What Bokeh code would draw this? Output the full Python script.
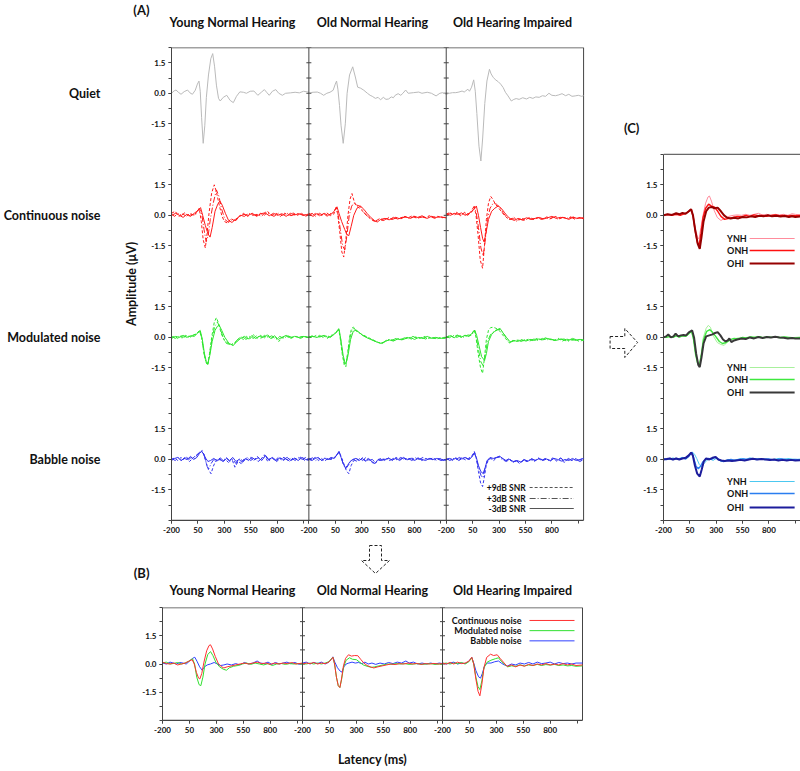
from bokeh.plotting import figure
from bokeh.models import FixedTicker, Span, LinearAxis
from bokeh.layouts import row, column
from bokeh.embed import file_html
from bokeh.resources import INLINE
from bokeh.core.properties import value

# ------------------------------------------------------------------ data
# latency (ms), amplitude (uV)
# (A) Quiet
A_Q_YNH = [(-200,0.0),(-175,0.12),(-157,0.16),(-135,0.05),(-110,-0.05),(-80,0.08),(-48,0.16),(-25,0.02),(-2,-0.05),(25,0.15),(45,0.45),(60,0.6),(72,0.1),(85,-1.2),(100,-2.46),(115,-1.6),(130,-0.2),(150,0.9),(172,1.7),(190,1.95),(208,1.3),(225,0.4),(245,-0.25),(261,-0.38),(290,-0.2),(323,-0.1),(355,-0.35),(385,-0.46),(415,-0.15),(447,0.07),(480,0.05),(509,0.0),(545,0.1),(580,0.11),(617,-0.1),(650,0.05),(679,0.18),(700,0.05),(725,-0.1),(755,0.1),(787,0.18),(815,0.0),(849,-0.1),(880,0.0),(926,0.02),(970,0.05),(1010,0.02),(1050,0.1),(1100,0.05)]
A_Q_ONH = [(-200,0.02),(-160,0.05),(-120,0.06),(-90,0.0),(-60,-0.1),(-30,0.0),(0,0.05),(30,0.15),(50,0.45),(62,0.6),(75,0.2),(90,-0.6),(105,-1.6),(125,-2.46),(145,-1.5),(162,0.0),(185,0.9),(215,1.3),(240,0.8),(262,0.3),(290,0.25),(320,0.15),(354,0.0),(380,-0.1),(400,-0.15),(430,-0.25),(455,-0.2),(478,-0.32),(505,-0.2),(530,-0.3),(555,-0.28),(580,-0.18),(600,-0.22),(617,-0.1),(645,-0.02),(670,-0.1),(690,0.0),(716,0.16),(740,0.0),(790,0.03),(840,0.06),(870,0.0),(920,0.05),(960,0.0),(1004,-0.13),(1040,0.0),(1066,0.03),(1100,-0.05)]
A_Q_OHI = [(-200,-0.05),(-170,0.0),(-140,0.03),(-110,0.03),(-80,0.06),(-50,0.11),(-30,0.06),(-15,0.12),(5,0.2),(20,0.1),(40,0.3),(60,0.66),(75,0.1),(90,-1.0),(110,-2.6),(128,-3.33),(145,-2.2),(165,-0.5),(185,0.6),(209,1.18),(225,0.95),(246,0.77),(270,0.65),(292,0.57),(315,0.45),(339,0.28),(360,0.05),(385,-0.13),(416,-0.38),(440,-0.3),(462,-0.26),(490,-0.3),(524,-0.22),(560,-0.28),(590,-0.2),(620,-0.25),(648,-0.18),(680,-0.2),(710,-0.12),(740,-0.15),(772,0.0),(800,-0.1),(835,-0.12),(865,-0.08),(896,-0.02),(930,-0.12),(960,-0.05),(990,-0.15),(1020,-0.13),(1050,-0.1),(1082,-0.15),(1100,-0.12)]

# (A) Continuous noise: +9, +3, -3 dB SNR
A_CN_YNH_P9 = [(-200,0.1),(-165,0.2),(-130,-0.05),(-95,0.08),(-60,-0.05),(-25,0.1),(10,0.0),(40,0.15),(62,0.35),(82,-0.3),(100,-1.2),(120,-1.6),(137,-0.9),(155,0.1),(180,1.1),(205,1.5),(225,1.15),(250,0.55),(275,0.0),(300,-0.3),(330,-0.38),(365,-0.15),(400,-0.3),(440,-0.05),(480,0.1),(520,-0.05),(560,0.08),(600,-0.02),(640,0.1),(680,0.0),(710,0.18),(750,0.0),(790,0.1),(830,-0.05),(870,0.1),(910,0.0),(950,0.12),(990,0.0),(1030,0.1),(1070,-0.05),(1100,0.05)]
A_CN_YNH_P3 = [(-200,0.05),(-170,-0.05),(-140,0.1),(-105,0.0),(-75,0.12),(-40,-0.05),(-10,0.05),(25,0.0),(50,0.25),(68,0.3),(88,0.0),(108,-0.7),(128,-1.3),(147,-1.0),(167,-0.2),(195,0.6),(225,1.25),(248,0.95),(275,0.3),(305,-0.2),(340,-0.35),(375,-0.2),(410,-0.25),(450,0.0),(490,-0.05),(530,0.1),(570,0.0),(610,0.05),(650,-0.05),(690,0.15),(730,0.05),(770,-0.05),(810,0.1),(850,0.0),(890,0.12),(930,-0.02),(970,0.05),(1010,0.1),(1050,0.0),(1100,0.08)]
A_CN_YNH_M3 = [(-200,0.0),(-160,0.1),(-125,0.0),(-90,-0.1),(-55,0.05),(-20,-0.05),(15,0.1),(40,0.2),(60,0.3),(75,0.38),(95,0.0),(120,-0.5),(145,-0.9),(165,-1.07),(185,-0.6),(212,0.2),(238,0.55),(258,0.7),(280,0.5),(310,0.1),(340,-0.25),(372,-0.35),(405,-0.2),(445,-0.05),(485,0.05),(525,0.0),(565,0.1),(605,-0.05),(645,0.08),(685,0.12),(725,-0.02),(765,0.1),(805,0.0),(845,0.08),(885,-0.05),(925,0.1),(965,0.02),(1005,0.08),(1045,0.0),(1100,0.05)]
A_CN_ONH_P9 = [(-200,0.1),(-165,0.0),(-130,0.12),(-95,-0.05),(-60,0.08),(-25,-0.05),(10,0.1),(35,0.05),(55,0.35),(72,0.1),(92,-0.8),(112,-1.8),(130,-2.05),(150,-1.2),(170,0.0),(190,0.8),(208,1.07),(228,0.7),(250,0.45),(280,0.35),(310,0.2),(345,0.0),(380,-0.15),(420,-0.3),(460,-0.2),(500,-0.25),(540,-0.15),(580,-0.2),(620,-0.1),(660,-0.15),(700,-0.05),(740,-0.12),(780,-0.02),(820,-0.1),(860,-0.05),(900,-0.12),(940,-0.02),(980,-0.1),(1020,-0.05),(1060,-0.12),(1100,-0.08)]
A_CN_ONH_P3 = [(-200,0.0),(-170,0.1),(-135,-0.05),(-100,0.1),(-65,0.0),(-30,0.12),(5,-0.02),(35,0.15),(58,0.4),(78,0.0),(98,-0.7),(120,-1.5),(140,-1.7),(160,-1.0),(182,0.0),(205,0.45),(225,0.6),(255,0.5),(285,0.45),(320,0.15),(355,-0.05),(390,-0.2),(430,-0.3),(470,-0.15),(510,-0.25),(550,-0.1),(590,-0.2),(630,-0.12),(670,-0.18),(710,-0.05),(750,-0.15),(790,-0.08),(830,-0.15),(870,-0.02),(910,-0.12),(950,-0.05),(990,-0.15),(1030,-0.05),(1070,-0.1),(1100,-0.12)]
A_CN_ONH_M3 = [(-200,0.05),(-160,-0.05),(-125,0.08),(-90,0.0),(-55,0.1),(-20,0.0),(15,0.08),(40,0.2),(66,0.42),(85,0.1),(110,-0.3),(140,-0.7),(160,-0.95),(178,-1.0),(200,-0.55),(225,0.0),(255,0.35),(290,0.45),(320,0.3),(350,0.1),(385,-0.1),(420,-0.25),(447,-0.33),(480,-0.2),(520,-0.15),(560,-0.22),(600,-0.1),(640,-0.18),(680,-0.12),(720,-0.08),(760,-0.15),(800,-0.05),(840,-0.12),(880,-0.08),(920,-0.15),(960,-0.05),(1000,-0.1),(1040,-0.08),(1100,-0.12)]
A_CN_OHI_P9 = [(-200,0.05),(-165,0.15),(-130,0.0),(-95,0.1),(-60,0.0),(-25,0.15),(10,0.05),(40,0.15),(62,0.4),(80,0.1),(100,-0.9),(122,-2.2),(144,-2.6),(162,-1.5),(180,-0.2),(200,0.6),(221,0.93),(240,0.8),(265,0.55),(290,0.4),(320,0.2),(350,0.0),(380,-0.15),(410,-0.2),(440,-0.1),(470,-0.25),(510,-0.15),(550,-0.2),(590,-0.1),(630,-0.2),(670,-0.12),(710,-0.18),(750,-0.08),(790,-0.15),(830,-0.05),(870,-0.15),(910,-0.1),(950,-0.18),(990,-0.05),(1030,-0.15),(1070,-0.1),(1100,-0.18)]
A_CN_OHI_P3 = [(-200,0.0),(-170,0.1),(-135,0.05),(-100,0.15),(-65,-0.02),(-30,0.1),(5,0.0),(35,0.2),(65,0.45),(85,0.1),(105,-0.6),(128,-1.6),(150,-2.0),(170,-1.2),(190,-0.2),(215,0.35),(245,0.6),(275,0.55),(305,0.4),(335,0.15),(365,-0.05),(395,-0.2),(430,-0.15),(465,-0.28),(500,-0.2),(540,-0.25),(580,-0.15),(620,-0.2),(660,-0.1),(700,-0.2),(740,-0.12),(780,-0.18),(820,-0.08),(860,-0.2),(900,-0.1),(940,-0.15),(980,-0.08),(1020,-0.2),(1060,-0.12),(1100,-0.15)]
A_CN_OHI_M3 = [(-200,0.08),(-160,0.0),(-125,0.1),(-90,0.05),(-55,0.12),(-20,0.0),(15,0.1),(45,0.2),(70,0.35),(85,0.46),(105,0.0),(125,-0.6),(145,-1.15),(159,-1.31),(175,-0.9),(200,-0.2),(230,0.2),(260,0.35),(292,0.46),(320,0.35),(350,0.15),(380,-0.05),(410,-0.18),(445,-0.25),(480,-0.15),(520,-0.22),(560,-0.12),(600,-0.2),(640,-0.15),(680,-0.1),(720,-0.18),(760,-0.12),(800,-0.05),(840,-0.15),(880,-0.1),(920,-0.12),(960,-0.2),(1000,-0.1),(1040,-0.15),(1100,-0.12)]

# (A) Modulated noise
A_MN_YNH_P9 = [(-200,0.0),(-170,0.05),(-140,-0.05),(-110,0.08),(-80,0.0),(-50,0.1),(-20,0.02),(10,0.12),(40,0.2),(65,0.34),(85,0.0),(105,-0.7),(125,-1.2),(142,-1.38),(160,-0.8),(180,0.0),(205,0.75),(225,0.97),(245,0.7),(270,0.2),(300,-0.15),(340,-0.3),(385,-0.39),(420,-0.15),(450,0.0),(480,-0.1),(510,0.05),(540,-0.08),(575,0.13),(610,-0.05),(640,0.1),(680,-0.02),(710,0.13),(745,-0.05),(780,0.05),(815,-0.2),(850,0.0),(890,0.05),(930,-0.05),(970,0.05),(1010,0.0),(1050,0.05),(1100,0.0)]
A_MN_YNH_P3 = [(-200,0.05),(-165,-0.05),(-130,0.05),(-100,-0.03),(-65,0.1),(-35,0.0),(0,0.1),(35,0.15),(68,0.32),(88,-0.1),(108,-0.8),(128,-1.25),(145,-1.3),(162,-0.8),(185,0.0),(210,0.55),(235,0.75),(258,0.5),(285,0.05),(320,-0.3),(360,-0.35),(400,-0.25),(435,-0.05),(470,0.05),(505,-0.1),(540,0.05),(575,-0.05),(610,0.1),(645,-0.05),(680,0.1),(715,0.0),(750,0.08),(790,-0.1),(825,0.05),(860,-0.05),(900,0.08),(940,0.0),(980,0.05),(1020,-0.05),(1060,0.05),(1100,0.0)]
A_MN_YNH_M3 = [(-200,-0.05),(-160,0.05),(-125,0.0),(-90,0.1),(-55,0.0),(-20,0.08),(15,0.05),(45,0.2),(72,0.34),(92,-0.1),(112,-0.8),(130,-1.2),(143,-1.3),(162,-0.9),(185,-0.2),(212,0.35),(235,0.55),(252,0.59),(275,0.35),(305,0.0),(345,-0.3),(385,-0.39),(420,-0.2),(455,-0.05),(490,0.05),(525,-0.08),(560,0.08),(595,-0.05),(630,0.05),(665,0.0),(700,0.1),(740,-0.05),(775,0.08),(810,-0.1),(845,0.0),(885,0.1),(925,-0.02),(965,0.05),(1005,0.0),(1045,0.05),(1100,0.0)]
A_MN_ONH_P9 = [(-200,0.05),(-165,0.0),(-130,0.1),(-95,0.02),(-60,0.08),(-25,-0.05),(10,0.1),(45,0.15),(68,0.3),(82,0.43),(98,-0.1),(118,-0.9),(135,-1.35),(150,-1.45),(168,-0.7),(188,0.1),(205,0.45),(221,0.5),(240,0.42),(270,0.25),(300,0.15),(340,0.05),(380,-0.05),(420,-0.15),(460,-0.25),(493,-0.3),(530,-0.18),(570,-0.1),(610,-0.15),(650,-0.05),(690,-0.1),(730,0.0),(770,-0.08),(810,0.02),(850,-0.05),(890,0.05),(930,-0.05),(970,0.0),(1010,-0.08),(1050,0.0),(1100,-0.05)]
A_MN_ONH_P3 = [(-200,0.0),(-170,0.08),(-135,-0.02),(-100,0.1),(-65,0.0),(-30,0.1),(5,0.0),(40,0.2),(70,0.3),(84,0.4),(100,-0.05),(120,-0.85),(138,-1.3),(150,-1.35),(168,-0.8),(190,0.0),(210,0.35),(228,0.45),(250,0.3),(280,0.2),(310,0.1),(350,0.0),(390,-0.1),(430,-0.2),(470,-0.28),(505,-0.25),(545,-0.1),(585,-0.15),(625,-0.05),(665,-0.12),(705,-0.02),(745,-0.08),(785,0.05),(825,-0.05),(865,0.0),(905,-0.08),(945,0.02),(985,-0.05),(1025,0.0),(1065,-0.05),(1100,0.0)]
A_MN_ONH_M3 = [(-200,0.02),(-160,0.05),(-125,0.0),(-90,0.05),(-55,0.1),(-20,0.0),(15,0.05),(50,0.2),(75,0.38),(88,0.35),(105,-0.2),(125,-0.9),(140,-1.2),(150,-1.3),(170,-0.9),(195,-0.1),(220,0.3),(245,0.35),(275,0.25),(310,0.1),(350,-0.02),(395,-0.12),(440,-0.22),(485,-0.3),(520,-0.2),(560,-0.12),(600,-0.18),(640,-0.08),(680,-0.12),(720,-0.05),(760,0.0),(800,-0.1),(840,0.0),(880,-0.05),(920,0.05),(960,-0.05),(1000,0.0),(1040,-0.05),(1100,-0.02)]
A_MN_OHI_P9 = [(-200,0.0),(-165,0.1),(-130,0.02),(-95,0.12),(-60,0.0),(-25,0.1),(10,0.05),(40,0.15),(66,0.39),(82,0.0),(102,-0.8),(125,-1.5),(144,-1.77),(162,-1.0),(180,-0.1),(200,0.35),(220,0.48),(245,0.5),(270,0.45),(300,0.35),(330,0.15),(360,-0.05),(400,-0.28),(430,-0.15),(460,-0.2),(500,-0.1),(540,-0.18),(580,-0.08),(620,-0.15),(660,-0.05),(700,-0.12),(740,-0.02),(780,-0.1),(820,-0.15),(860,-0.05),(900,-0.18),(940,-0.08),(980,-0.15),(1020,-0.1),(1060,-0.2),(1100,-0.12)]
A_MN_OHI_P3 = [(-200,0.05),(-170,-0.02),(-135,0.1),(-100,0.0),(-65,0.08),(-30,0.0),(5,0.12),(40,0.1),(68,0.36),(85,0.0),(105,-0.6),(128,-1.2),(150,-1.4),(168,-0.9),(190,-0.2),(220,0.15),(250,0.3),(280,0.38),(310,0.44),(335,0.25),(365,0.0),(400,-0.25),(435,-0.18),(470,-0.12),(510,-0.2),(550,-0.1),(590,-0.18),(630,-0.08),(670,-0.15),(710,-0.05),(750,-0.12),(790,-0.08),(830,-0.15),(870,-0.05),(910,-0.12),(950,-0.2),(990,-0.1),(1030,-0.15),(1070,-0.08),(1100,-0.15)]
A_MN_OHI_M3 = [(-200,0.02),(-160,0.08),(-125,-0.02),(-90,0.1),(-55,0.02),(-20,0.1),(15,0.05),(45,0.2),(70,0.35),(88,0.1),(110,-0.4),(135,-0.95),(163,-1.13),(180,-0.8),(200,-0.2),(230,0.15),(260,0.3),(290,0.38),(315,0.4),(340,0.2),(370,0.0),(405,-0.22),(440,-0.15),(475,-0.2),(515,-0.12),(555,-0.18),(595,-0.1),(635,-0.15),(675,-0.08),(715,-0.12),(755,-0.05),(795,-0.1),(835,-0.15),(875,-0.1),(915,-0.08),(955,-0.15),(995,-0.05),(1035,-0.12),(1075,-0.1),(1100,-0.15)]

# (A) Babble noise
A_BN_YNH_P9 = [(-200,0.0),(-170,0.08),(-140,-0.05),(-110,0.1),(-85,0.0),(-60,0.15),(-30,-0.1),(0,0.05),(30,0.2),(60,0.3),(91,0.44),(110,0.2),(130,-0.2),(150,-0.5),(174,-0.7),(195,-0.35),(220,-0.05),(250,0.05),(280,-0.1),(310,0.0),(340,-0.15),(370,0.05),(400,-0.38),(430,-0.1),(460,-0.2),(490,0.05),(520,0.0),(550,0.1),(580,-0.05),(610,0.15),(645,0.0),(679,0.23),(710,-0.1),(745,0.1),(780,-0.05),(815,0.12),(850,-0.08),(885,0.05),(920,-0.1),(955,0.1),(990,0.0),(1025,0.12),(1060,-0.05),(1100,0.05)]
A_BN_YNH_P3 = [(-200,0.05),(-165,-0.05),(-135,0.08),(-105,-0.05),(-75,0.1),(-45,-0.05),(-15,0.1),(15,0.0),(45,0.25),(75,0.4),(100,0.35),(120,0.0),(138,-0.35),(153,-0.46),(175,-0.2),(200,0.0),(230,-0.1),(260,0.08),(290,-0.05),(320,0.1),(350,-0.1),(380,0.0),(410,-0.2),(445,0.05),(480,-0.1),(515,0.1),(550,-0.05),(585,0.08),(620,-0.1),(655,0.05),(690,0.15),(725,-0.05),(760,0.08),(795,-0.1),(830,0.05),(865,0.1),(900,-0.05),(935,0.08),(970,-0.05),(1005,0.1),(1040,0.0),(1070,0.1),(1100,-0.05)]
A_BN_YNH_M3 = [(-200,-0.05),(-170,0.05),(-140,0.1),(-110,-0.05),(-80,0.05),(-50,0.0),(-20,0.15),(10,0.0),(40,0.1),(65,0.3),(85,0.4),(105,0.25),(125,0.05),(145,-0.1),(170,-0.05),(200,0.05),(230,-0.05),(260,0.0),(290,-0.1),(320,0.05),(350,-0.05),(380,0.1),(410,-0.1),(440,0.0),(470,-0.15),(500,0.05),(530,-0.05),(560,0.1),(590,0.0),(620,0.08),(655,-0.05),(690,0.2),(720,0.0),(755,0.1),(790,-0.05),(825,0.08),(860,0.0),(895,0.1),(930,-0.05),(965,0.05),(1000,-0.05),(1035,0.1),(1070,0.0),(1100,-0.05)]
A_BN_ONH_P9 = [(-200,0.05),(-170,0.0),(-140,0.1),(-110,-0.05),(-80,0.05),(-50,-0.08),(-20,0.05),(10,0.0),(40,0.1),(65,0.2),(85,0.38),(105,0.15),(130,-0.2),(155,-0.55),(178,-0.7),(200,-0.3),(225,-0.05),(250,0.05),(280,-0.05),(310,0.1),(340,-0.1),(370,0.0),(400,-0.15),(425,-0.22),(455,0.0),(490,0.05),(520,-0.05),(555,0.08),(590,-0.05),(625,0.1),(660,0.0),(695,0.08),(730,-0.05),(765,0.1),(800,0.0),(835,0.08),(870,-0.05),(905,0.05),(940,0.0),(975,0.08),(1010,-0.05),(1045,0.05),(1075,-0.05),(1100,0.0)]
A_BN_ONH_P3 = [(-200,0.0),(-165,0.08),(-135,-0.05),(-105,0.05),(-75,-0.05),(-45,0.1),(-15,0.0),(20,0.05),(50,0.1),(72,0.3),(88,0.35),(108,0.05),(130,-0.3),(150,-0.45),(172,-0.3),(195,-0.1),(220,0.0),(250,-0.08),(280,0.05),(310,-0.05),(340,0.1),(370,-0.05),(400,0.0),(430,-0.15),(460,-0.05),(495,0.0),(530,0.05),(565,-0.05),(600,0.05),(635,-0.02),(670,0.1),(705,0.0),(740,0.05),(775,-0.05),(810,0.08),(845,0.0),(880,0.1),(915,-0.02),(950,0.05),(985,-0.05),(1020,0.05),(1060,0.0),(1100,-0.05)]
A_BN_ONH_M3 = [(-200,0.0),(-170,-0.05),(-140,0.05),(-110,0.1),(-80,-0.05),(-50,0.05),(-20,0.0),(10,0.1),(40,0.05),(68,0.25),(85,0.4),(105,0.1),(125,-0.2),(145,-0.4),(165,-0.3),(190,-0.1),(215,0.0),(245,0.05),(275,-0.05),(305,0.05),(335,-0.08),(365,0.05),(395,-0.1),(425,-0.2),(455,0.0),(485,-0.05),(520,0.0),(555,0.05),(590,-0.02),(625,0.05),(660,-0.05),(695,0.1),(730,0.0),(765,0.05),(800,-0.05),(835,0.05),(870,0.0),(905,-0.05),(940,0.05),(975,0.0),(1010,0.05),(1050,-0.05),(1100,0.0)]
A_BN_OHI_P9 = [(-200,0.0),(-170,0.05),(-140,-0.05),(-110,0.08),(-80,0.0),(-50,0.1),(-20,-0.02),(10,0.05),(40,0.15),(66,0.39),(85,0.05),(105,-0.6),(125,-1.15),(144,-1.33),(160,-0.9),(178,-0.3),(200,0.0),(225,0.05),(250,-0.05),(280,0.1),(310,0.15),(340,0.0),(370,-0.1),(400,0.0),(430,-0.15),(460,-0.05),(495,-0.2),(530,-0.05),(565,-0.1),(600,0.0),(635,-0.1),(670,0.05),(705,-0.05),(740,0.05),(775,-0.05),(810,0.08),(845,-0.08),(880,0.05),(915,-0.15),(950,0.0),(985,-0.05),(1020,0.05),(1060,-0.05),(1100,0.08)]
A_BN_OHI_P3 = [(-200,0.05),(-165,-0.05),(-135,0.05),(-105,0.0),(-75,0.1),(-45,0.0),(-15,0.08),(20,0.0),(50,0.2),(68,0.35),(88,0.0),(108,-0.45),(130,-0.8),(148,-0.9),(165,-0.5),(185,-0.1),(210,0.05),(240,0.0),(270,0.08),(300,0.12),(330,0.0),(360,-0.08),(395,0.05),(430,-0.12),(465,-0.08),(500,-0.15),(535,0.0),(570,-0.1),(605,0.05),(640,-0.05),(675,0.08),(710,-0.02),(745,0.05),(780,-0.1),(815,0.05),(850,-0.05),(885,0.08),(920,-0.1),(955,0.05),(990,-0.05),(1030,0.0),(1065,-0.1),(1100,0.0)]
A_BN_OHI_M3 = [(-200,-0.02),(-170,0.05),(-140,0.0),(-110,0.05),(-80,-0.05),(-50,0.05),(-20,0.1),(10,0.0),(40,0.1),(65,0.3),(85,0.1),(105,-0.3),(128,-0.6),(150,-0.69),(168,-0.4),(188,-0.05),(215,0.1),(245,0.05),(275,0.1),(305,0.16),(335,0.05),(365,-0.05),(400,0.0),(435,-0.1),(470,-0.05),(505,-0.12),(540,-0.02),(575,-0.08),(610,0.02),(645,-0.05),(680,0.05),(715,-0.05),(750,0.02),(785,-0.05),(820,0.05),(855,0.0),(890,-0.08),(925,0.0),(960,-0.05),(995,0.05),(1030,-0.05),(1065,0.0),(1100,0.05)]

# (B) averaged over SNR, per noise type
B_YNH_CN = [(-200,0.1),(-165,0.02),(-130,0.0),(-95,0.05),(-60,-0.05),(-25,0.0),(10,0.05),(45,0.15),(75,0.23),(95,0.0),(115,-0.45),(135,-0.75),(147,-0.79),(165,-0.5),(185,0.1),(210,0.7),(232,0.98),(246,1.02),(265,0.8),(290,0.4),(320,0.0),(350,-0.15),(370,-0.21),(400,-0.15),(440,-0.1),(480,-0.05),(520,0.0),(560,0.05),(600,0.0),(640,0.05),(680,0.1),(720,0.02),(760,0.05),(800,-0.02),(840,0.05),(880,0.0),(920,0.05),(960,0.02),(1000,0.08),(1040,0.0),(1100,0.05)]
B_YNH_MN = [(-200,0.05),(-165,0.1),(-130,0.0),(-95,0.03),(-60,0.08),(-25,0.0),(10,0.05),(45,0.15),(78,0.28),(98,0.0),(118,-0.7),(140,-1.1),(156,-1.15),(175,-0.7),(195,0.0),(220,0.5),(246,0.66),(268,0.45),(295,0.1),(330,-0.15),(365,-0.28),(394,-0.33),(420,-0.2),(460,-0.12),(500,-0.08),(540,0.0),(580,0.05),(620,-0.02),(660,0.05),(700,0.0),(740,-0.05),(780,0.02),(820,-0.08),(860,0.0),(900,0.03),(940,-0.02),(980,0.02),(1020,0.0),(1060,0.02),(1100,0.0)]
B_YNH_BN = [(-200,0.05),(-165,0.0),(-130,0.1),(-100,0.05),(-70,0.0),(-40,0.08),(-10,0.05),(20,0.0),(50,0.15),(80,0.3),(100,0.36),(120,0.15),(145,-0.15),(168,-0.33),(190,-0.15),(215,-0.05),(245,0.0),(280,0.08),(310,0.0),(340,-0.08),(370,-0.05),(400,0.0),(440,-0.05),(480,0.02),(520,-0.05),(560,0.08),(600,0.0),(640,0.05),(679,0.16),(710,0.05),(745,0.02),(780,0.1),(815,-0.02),(850,0.08),(885,0.0),(920,0.05),(955,0.1),(990,0.02),(1030,0.08),(1070,-0.02),(1100,0.05)]
B_ONH_CN = [(-200,0.0),(-165,0.05),(-130,0.02),(-95,0.08),(-60,0.0),(-25,0.05),(10,0.02),(45,0.1),(68,0.25),(82,0.36),(98,0.0),(115,-0.7),(132,-1.15),(147,-1.25),(162,-0.8),(180,-0.1),(200,0.3),(227,0.49),(255,0.42),(285,0.45),(314,0.44),(340,0.25),(370,0.05),(400,-0.08),(430,-0.15),(462,-0.21),(500,-0.15),(540,-0.1),(580,-0.05),(620,0.0),(660,-0.03),(700,0.02),(740,0.0),(780,0.05),(820,0.0),(860,0.03),(900,-0.02),(940,0.02),(980,0.0),(1020,0.03),(1060,0.0),(1100,0.02)]
B_ONH_MN = [(-200,0.02),(-165,0.0),(-130,0.05),(-95,0.0),(-60,0.05),(-25,0.0),(10,0.05),(45,0.12),(68,0.28),(82,0.36),(98,0.0),(115,-0.7),(132,-1.15),(147,-1.25),(162,-0.85),(182,-0.15),(205,0.2),(236,0.33),(265,0.25),(300,0.23),(330,0.1),(365,-0.05),(400,-0.12),(440,-0.18),(470,-0.15),(510,-0.1),(550,-0.05),(590,0.0),(630,-0.02),(670,0.02),(710,0.0),(750,0.02),(790,-0.02),(830,0.0),(870,0.02),(910,-0.02),(950,0.0),(990,0.02),(1030,-0.02),(1070,0.0),(1100,-0.02)]
B_ONH_BN = [(-200,0.05),(-165,0.1),(-130,0.0),(-95,0.08),(-60,0.02),(-25,0.1),(10,0.0),(45,0.1),(68,0.25),(82,0.38),(100,0.1),(125,-0.2),(150,-0.38),(166,-0.43),(185,-0.15),(205,0.0),(230,0.05),(260,0.1),(290,0.05),(320,0.08),(350,0.02),(380,0.1),(410,0.0),(445,0.05),(480,-0.02),(520,0.05),(560,0.0),(600,0.08),(640,0.02),(680,0.1),(720,0.05),(760,0.16),(790,0.05),(830,0.1),(870,0.0),(910,0.05),(950,0.0),(990,0.05),(1030,0.0),(1070,0.05),(1100,0.02)]
B_OHI_CN = [(-200,0.05),(-165,0.0),(-130,0.08),(-95,0.0),(-60,0.1),(-25,0.02),(10,0.05),(45,0.15),(72,0.36),(90,0.0),(110,-0.8),(130,-1.45),(147,-1.69),(165,-1.1),(185,-0.2),(210,0.35),(246,0.52),(275,0.45),(308,0.49),(335,0.3),(365,0.1),(400,-0.13),(440,-0.05),(480,-0.15),(520,-0.05),(560,-0.12),(600,-0.02),(640,-0.08),(680,0.0),(720,-0.05),(760,0.02),(800,-0.05),(840,0.0),(880,-0.05),(920,0.02),(960,-0.05),(1000,0.0),(1040,-0.08),(1100,-0.05)]
B_OHI_MN = [(-200,0.02),(-165,0.05),(-130,0.0),(-95,0.05),(-60,0.02),(-25,0.08),(10,0.0),(45,0.12),(72,0.33),(90,0.0),(110,-0.7),(130,-1.2),(147,-1.36),(165,-0.9),(185,-0.2),(215,0.1),(250,0.2),(290,0.28),(320,0.33),(345,0.15),(375,0.0),(405,-0.15),(440,-0.1),(480,-0.12),(520,-0.05),(560,-0.1),(600,-0.05),(640,-0.08),(680,-0.02),(720,-0.08),(760,-0.03),(800,-0.06),(840,-0.02),(880,-0.08),(920,-0.05),(960,-0.1),(1000,-0.08),(1040,-0.12),(1100,-0.1)]
B_OHI_BN = [(-200,0.05),(-165,0.0),(-130,0.05),(-95,0.1),(-60,0.0),(-25,0.05),(10,0.02),(45,0.15),(72,0.35),(90,0.05),(110,-0.35),(135,-0.68),(153,-0.75),(170,-0.5),(190,-0.1),(215,0.05),(250,0.05),(285,0.12),(320,0.16),(345,0.05),(375,-0.05),(405,-0.1),(440,0.0),(480,-0.05),(520,0.05),(560,0.0),(600,0.08),(640,0.0),(680,0.1),(720,0.02),(760,0.05),(800,0.1),(840,0.0),(880,0.08),(920,0.02),(960,0.05),(1000,0.0),(1040,0.05),(1100,0.05)]

# (C) group comparison per noise type
C_CN_YNH = [(-200,0.05),(-160,0.0),(-120,0.05),(-80,0.02),(-40,0.08),(0,0.05),(30,0.15),(50,0.2),(66,0.25),(85,-0.1),(105,-0.7),(125,-1.1),(137,-1.15),(155,-0.6),(175,0.0),(200,0.6),(222,0.9),(236,0.95),(255,0.7),(280,0.25),(310,-0.1),(345,-0.25),(380,-0.15),(420,-0.05),(460,0.0),(500,0.02),(540,0.0),(580,0.05),(620,0.0),(660,0.05),(700,0.1),(740,0.02),(780,0.05),(820,0.0),(860,0.05),(900,0.02),(940,0.05),(980,0.0),(1020,0.08),(1050,0.05),(1100,0.02)]
C_CN_ONH = [(-200,0.02),(-160,0.05),(-120,0.0),(-80,0.05),(-40,0.0),(0,0.08),(30,0.15),(50,0.25),(64,0.3),(82,-0.1),(102,-0.8),(122,-1.35),(138,-1.45),(155,-0.9),(175,-0.1),(200,0.35),(228,0.55),(255,0.45),(285,0.4),(315,0.2),(345,-0.05),(380,-0.2),(420,-0.15),(460,-0.1),(500,-0.05),(540,-0.08),(580,0.0),(620,-0.05),(660,0.02),(700,-0.02),(740,0.0),(780,-0.05),(820,0.0),(860,0.02),(900,-0.02),(940,0.0),(980,-0.03),(1020,0.0),(1050,-0.02),(1100,0.0)]
C_CN_OHI = [(-200,0.0),(-160,0.05),(-120,0.02),(-80,0.1),(-50,0.05),(-20,0.12),(10,0.08),(40,0.2),(62,0.3),(80,0.0),(100,-0.7),(125,-1.4),(144,-1.65),(160,-1.1),(180,-0.3),(205,0.2),(230,0.38),(258,0.41),(285,0.35),(314,0.38),(345,0.2),(375,0.0),(405,-0.12),(437,-0.16),(470,-0.12),(510,-0.15),(550,-0.08),(590,-0.1),(630,-0.05),(670,-0.08),(710,-0.02),(750,-0.05),(790,0.0),(830,-0.05),(870,-0.02),(910,-0.06),(950,-0.03),(990,-0.08),(1020,-0.05),(1050,-0.08),(1100,-0.06)]
C_MN_YNH = [(-200,0.0),(-170,0.08),(-140,0.0),(-110,0.05),(-80,0.12),(-50,0.0),(-20,0.1),(10,0.05),(40,0.2),(65,0.3),(85,-0.1),(105,-0.8),(125,-1.2),(140,-1.3),(158,-0.8),(178,0.0),(205,0.45),(225,0.59),(245,0.5),(275,0.05),(310,-0.25),(345,-0.35),(376,-0.39),(410,-0.2),(450,-0.08),(490,-0.05),(530,0.0),(570,-0.02),(610,0.02),(650,0.0),(690,0.05),(730,0.0),(770,0.02),(810,-0.02),(850,0.02),(890,0.0),(930,0.03),(970,0.0),(1010,-0.02),(1050,0.0),(1100,0.02)]
C_MN_ONH = [(-200,0.02),(-170,0.0),(-140,0.05),(-110,0.0),(-80,0.08),(-50,0.02),(-20,0.08),(10,0.05),(40,0.18),(66,0.32),(85,-0.1),(105,-0.85),(125,-1.3),(142,-1.38),(160,-0.85),(180,-0.1),(210,0.3),(240,0.38),(265,0.25),(295,0.05),(330,-0.2),(360,-0.3),(395,-0.25),(430,-0.12),(470,-0.05),(510,-0.08),(550,0.0),(590,-0.03),(630,0.02),(670,0.0),(710,0.03),(750,-0.02),(790,0.02),(830,0.0),(870,0.02),(910,-0.02),(950,0.02),(990,0.0),(1050,-0.03),(1100,-0.01)]
C_MN_OHI = [(-200,0.0),(-175,0.05),(-155,0.15),(-130,0.0),(-105,0.05),(-85,0.18),(-60,0.05),(-35,0.1),(-10,0.12),(15,0.1),(40,0.25),(72,0.34),(90,0.0),(110,-0.8),(130,-1.35),(144,-1.46),(160,-1.0),(180,-0.3),(205,0.05),(235,0.1),(265,0.15),(290,0.22),(314,0.26),(340,0.1),(365,-0.1),(390,-0.2),(410,-0.15),(425,-0.05),(444,-0.23),(470,-0.15),(500,-0.1),(540,-0.05),(580,-0.08),(620,0.0),(660,-0.05),(700,0.02),(740,-0.03),(780,0.02),(820,0.0),(860,0.03),(900,0.0),(940,-0.02),(980,-0.05),(1020,-0.03),(1050,-0.05),(1100,-0.06)]
C_BN_YNH = [(-200,0.0),(-170,0.05),(-140,0.0),(-110,0.08),(-80,0.0),(-50,0.05),(-20,0.1),(10,0.05),(40,0.2),(60,0.3),(75,0.36),(95,0.25),(115,0.05),(140,-0.25),(165,-0.38),(185,-0.2),(210,-0.05),(240,0.05),(270,-0.05),(300,0.05),(330,-0.05),(360,-0.1),(390,-0.05),(420,0.0),(460,-0.05),(500,0.0),(540,0.05),(580,0.0),(620,0.08),(660,0.02),(700,0.05),(740,0.0),(780,0.03),(820,-0.02),(860,0.02),(900,0.05),(940,0.0),(980,0.05),(1020,0.02),(1050,0.0),(1100,0.02)]
C_BN_ONH = [(-200,0.02),(-170,0.0),(-140,0.05),(-110,0.0),(-80,0.05),(-50,0.02),(-20,0.08),(10,0.02),(40,0.15),(60,0.3),(72,0.35),(90,0.0),(110,-0.35),(130,-0.45),(150,-0.35),(170,-0.15),(195,0.0),(225,0.05),(255,0.0),(285,0.1),(310,0.05),(340,-0.05),(370,-0.1),(400,-0.05),(440,0.0),(480,-0.05),(520,0.0),(560,0.03),(600,0.0),(640,0.05),(680,0.0),(720,0.03),(760,0.0),(800,0.02),(840,-0.02),(880,0.0),(920,0.03),(960,0.0),(1000,-0.02),(1050,0.0),(1100,-0.02)]
C_BN_OHI = [(-200,0.0),(-170,0.02),(-140,0.05),(-110,0.0),(-80,0.05),(-50,0.0),(-20,0.05),(10,0.08),(40,0.2),(62,0.34),(78,0.2),(98,-0.3),(120,-0.7),(144,-0.84),(162,-0.5),(182,-0.1),(205,0.05),(235,0.0),(265,0.08),(295,0.12),(320,0.0),(350,-0.05),(380,-0.08),(410,-0.05),(450,-0.08),(490,-0.05),(530,-0.02),(570,-0.05),(610,0.0),(650,0.03),(690,0.0),(730,0.02),(770,0.0),(810,-0.03),(850,0.0),(890,-0.05),(930,-0.02),(970,-0.05),(1010,-0.02),(1050,-0.05),(1100,-0.04)]

GROUPS = ["Young Normal Hearing", "Old Normal Hearing", "Old Hearing Impaired"]
ROWS_A = ["Quiet", "Continuous noise", "Modulated noise", "Babble noise"]
SNR_LABELS = ["+9dB SNR", "+3dB SNR", "-3dB SNR"]
NOISE_LABELS = ["Continuous noise", "Modulated noise", "Babble noise"]
C_LABELS = ["YNH", "ONH", "OHI"]
X_TICKS = [-200, 50, 300, 550, 800]
X_MINOR = [-200, 50, 300, 550, 800, 1050]
Y_TICKS = [1.5, 0.0, -1.5]
Y_TICK_LABELS = ["1.5", "0.0", "-1.5"]

# ------------------------------------------------------------------ geometry / style
FONT = "Lato"
AXC = "#444444"
TXT = "#111111"
COLW = 1300                 # ms per column (-200 .. 1100)
ROWH = 6.0                  # uV per row
XS = COLW / 140.0           # ms per pixel
LEFT = 162                  # frame left of A / B / strips (px)
FRAME_R = 640               # frame right of A / B / strips (px)
X_END = -200 + (FRAME_R - LEFT) * XS
BOX_END = 3 * COLW - 200
A_TOP, A_BOT = 47, 520
A_YR = (-21.0, 2.25)
B_TOP, B_BOT = 607, 729
C_LEFT = 660

GRAY = "#bababa"
A_COLORS = ["#ff1a1a", "#2fe62f", "#3232ee"]
DASH = {"P9": "3 2", "P3": "6 2 1 2", "M3": "solid"}
B_COLORS = ["#ff3030", "#30e030", "#3040ff"]
C_COLORS = [["#ff8c9c", "#ff1010", "#960000"],
            ["#a8f09c", "#3ee83e", "#383838"],
            ["#4cc8f0", "#2a7ef0", "#1c1c9c"]]
C_WIDTHS = [1.0, 1.4, 2.0]


def px_x(sx, left=LEFT):
    return -200 + (sx - left) * XS


def px_ya(sy):
    return A_YR[1] - (sy - A_TOP) * (A_YR[1] - A_YR[0]) / (A_BOT - A_TOP)


def px_yb(sy):
    return 3.0 - (sy - B_TOP) * 6.0 / (B_BOT - B_TOP)


def style(p, xmaj, xmin, xover, ymaj, ymin, yover):
    p.xaxis.ticker = FixedTicker(ticks=xmaj, minor_ticks=xmin)
    p.yaxis.ticker = FixedTicker(ticks=ymaj, minor_ticks=ymin)
    p.xaxis.major_label_overrides = xover
    p.yaxis.major_label_overrides = yover
    for ax in (p.xaxis[0], p.yaxis[0]):
        ax.axis_line_color = AXC
        ax.major_tick_line_color = AXC
        ax.minor_tick_line_color = AXC
        ax.major_tick_out = 3
        ax.major_tick_in = 0
        ax.minor_tick_out = 3
        ax.minor_tick_in = 0
        ax.major_label_text_font = FONT
        ax.major_label_text_font_style = "bold"
        ax.major_label_text_font_size = "8px"
        ax.major_label_text_color = TXT
        ax.major_label_standoff = 3
    p.xgrid.visible = False
    p.ygrid.visible = False
    p.outline_line_color = None


def text_axis(ticks, labels, size, standoff):
    return LinearAxis(ticker=FixedTicker(ticks=ticks),
                      major_label_overrides=dict(zip(ticks, labels)),
                      axis_line_color=None, major_tick_line_color=None,
                      minor_tick_line_color=None, major_label_text_font=FONT,
                      major_label_text_font_style="bold", major_label_text_font_size=size,
                      major_label_text_color=TXT, major_label_standoff=standoff)


def txt(p, xs, ys, texts, size, align="center"):
    p.text(x=xs, y=ys, text=texts, text_font=value(FONT), text_font_style="bold",
           text_font_size=size, text_align=align, text_baseline="middle", text_color=TXT)


def trace(p, pts, col, off, color, width=1.0, dash="solid"):
    xs = [t + COLW * col for t, _ in pts]
    ys = [v + off for _, v in pts]
    p.line(xs, ys, line_color=color, line_width=width, line_dash=dash)


def x_axis_spec(ncol):
    maj = [COLW * c + t for c in range(ncol) for t in X_TICKS]
    mnr = [COLW * c + t for c in range(ncol) for t in X_MINOR]
    over = {COLW * c + t: str(t) for c in range(ncol) for t in X_TICKS}
    return maj, mnr, over


def y_axis_spec(offsets, lo_k, hi_k):
    maj, over = [], {}
    for off in offsets:
        for v, s in zip(Y_TICKS, Y_TICK_LABELS):
            maj.append(off + v)
            over[off + v] = s
    mnr = [k * 0.75 for k in range(lo_k, hi_k + 1)]
    return maj, mnr, over


def strip(height):
    s = figure(width=FRAME_R, height=height, x_range=(-200, X_END), y_range=(height, 0),
               x_axis_type=None, y_axis_type=None, output_backend="svg", toolbar_location=None,
               min_border_left=LEFT, min_border_right=0, min_border_top=0, min_border_bottom=0)
    s.xgrid.visible = False
    s.ygrid.visible = False
    s.outline_line_color = None
    return s

# ------------------------------------------------------------------ top strip: (A) + group titles
TOP_H = 40
sT = strip(TOP_H)
sT.add_layout(text_axis([9], ["(A)"], "13px", 7), "left")
txt(sT, [450 + COLW * i for i in range(3)], [22] * 3, GROUPS, "12.5px")

# ------------------------------------------------------------------ panel A
pA = figure(width=FRAME_R, height=A_BOT - TOP_H + 18, x_range=(-200, X_END), y_range=A_YR,
            output_backend="svg", toolbar_location=None,
            min_border_left=LEFT, min_border_right=0, min_border_top=A_TOP - TOP_H, min_border_bottom=18)
xa = x_axis_spec(3)
ya = y_axis_spec([0, -ROWH, -2 * ROWH, -3 * ROWH], -28, 3)
style(pA, *xa, *ya)
pA.xaxis.bounds = (-200, BOX_END)
pA.yaxis.axis_label = "Amplitude (μV)"
pA.yaxis.axis_label_text_font = FONT
pA.yaxis.axis_label_text_font_style = "bold"
pA.yaxis.axis_label_text_font_size = "12.5px"
pA.yaxis.axis_label_text_color = TXT
pA.yaxis.axis_label_standoff = 9
pA.add_layout(text_axis([0, -ROWH, -2 * ROWH, -3 * ROWH], ROWS_A, "12.5px", 15), "left")
pA.line([-200, BOX_END], [A_YR[1], A_YR[1]], line_color=AXC, line_width=1.5)
pA.line([-200, BOX_END], [A_YR[0], A_YR[0]], line_color=AXC, line_width=1.5)
pA.line([BOX_END, BOX_END], list(A_YR), line_color=AXC, line_width=1)
for c in (1, 2):
    pA.add_layout(Span(location=COLW * c - 200, dimension="height", line_color=AXC, line_width=1))
    pA.scatter(x=[COLW * c - 200] * len(ya[1]), y=ya[1], marker="dash", size=5, line_color=AXC)

for c, pts in enumerate([A_Q_YNH, A_Q_ONH, A_Q_OHI]):
    trace(pA, pts, c, 0.0, GRAY)
A_NOISE = [
    [[A_CN_YNH_P9, A_CN_YNH_P3, A_CN_YNH_M3], [A_CN_ONH_P9, A_CN_ONH_P3, A_CN_ONH_M3], [A_CN_OHI_P9, A_CN_OHI_P3, A_CN_OHI_M3]],
    [[A_MN_YNH_P9, A_MN_YNH_P3, A_MN_YNH_M3], [A_MN_ONH_P9, A_MN_ONH_P3, A_MN_ONH_M3], [A_MN_OHI_P9, A_MN_OHI_P3, A_MN_OHI_M3]],
    [[A_BN_YNH_P9, A_BN_YNH_P3, A_BN_YNH_M3], [A_BN_ONH_P9, A_BN_ONH_P3, A_BN_ONH_M3], [A_BN_OHI_P9, A_BN_OHI_P3, A_BN_OHI_M3]],
]
for r, cols in enumerate(A_NOISE):
    off = -ROWH * (r + 1)
    for c, triple in enumerate(cols):
        for pts, key in zip(triple, ["P9", "P3", "M3"]):
            trace(pA, pts, c, off, A_COLORS[r], 1.0, DASH[key])

# SNR legend (inside the third column of A)
for label, key, sy in zip(SNR_LABELS, ["P9", "P3", "M3"], [487, 498, 508]):
    txt(pA, [px_x(523)], [px_ya(sy)], [label], "8.5px", "right")
    pA.line([px_x(527), px_x(572)], [px_ya(sy)] * 2, line_color="#555555", line_width=1, line_dash=DASH[key])

# "(C)" and the dashed arrow pointing to panel C (drawn in A's frame, right of its box)
txt(pA, [px_x(631)], [px_ya(127)], ["(C)"], "13px")
arrow_c_x = [609, 624, 624, 637, 624, 624, 609]
arrow_c_y = [336, 336, 328, 342, 357, 348, 348]
pA.patch([px_x(v) for v in arrow_c_x], [px_ya(v) for v in arrow_c_y],
         fill_alpha=0, line_color="#222222", line_dash="3 2", line_width=1)

# ------------------------------------------------------------------ panel C
pC = figure(width=800 - FRAME_R, height=A_BOT - TOP_H + 18, x_range=(-200, 1100), y_range=A_YR,
            output_backend="svg", toolbar_location=None,
            min_border_left=C_LEFT - FRAME_R, min_border_right=0,
            min_border_top=A_TOP - TOP_H, min_border_bottom=18)
xc = x_axis_spec(1)
yc = y_axis_spec([-ROWH, -2 * ROWH, -3 * ROWH], -28, -4)
style(pC, *xc, *yc)
pC.yaxis.bounds = (A_YR[0], -3.0)
pC.line([-200, 1100], [-3.0, -3.0], line_color=AXC, line_width=1)
C_DATA = [[C_CN_YNH, C_CN_ONH, C_CN_OHI], [C_MN_YNH, C_MN_ONH, C_MN_OHI], [C_BN_YNH, C_BN_ONH, C_BN_OHI]]
for r, triple in enumerate(C_DATA):
    off = -ROWH * (r + 1)
    for g, pts in enumerate(triple):
        trace(pC, pts, 0, off, C_COLORS[r][g], C_WIDTHS[g])
legend_sy = [[238, 250, 263], [367, 379, 392], [481, 493, 507]]
for r in range(3):
    for g in range(3):
        yy = px_ya(legend_sy[r][g])
        txt(pC, [px_x(725, C_LEFT)], [yy], [C_LABELS[g]], "9px", "left")
        pC.line([px_x(748, C_LEFT), px_x(794, C_LEFT)], [yy, yy],
                line_color=C_COLORS[r][g], line_width=C_WIDTHS[g])

# ------------------------------------------------------------------ middle strip: arrow, (B), titles
MID_TOP = A_BOT + 18
MID_H = B_TOP - 7 - MID_TOP
sM = strip(MID_H)
sM.add_layout(text_axis([572 - MID_TOP], ["(B)"], "13px", 7), "left")
txt(sM, [450 + COLW * i for i in range(3)], [590 - MID_TOP] * 3, GROUPS, "12.5px")
arrow_b_x = [369, 381, 381, 389, 375, 361, 369]
arrow_b_y = [545, 545, 560, 560, 573, 560, 560]
sM.patch([px_x(v) for v in arrow_b_x], [v - MID_TOP for v in arrow_b_y],
         fill_alpha=0, line_color="#222222", line_dash="3 2", line_width=1)

# ------------------------------------------------------------------ panel B
pB = figure(width=FRAME_R, height=7 + (B_BOT - B_TOP) + 40, x_range=(-200, X_END), y_range=(-3, 3),
            output_backend="svg", toolbar_location=None,
            min_border_left=LEFT, min_border_right=0, min_border_top=7, min_border_bottom=40)
xb = x_axis_spec(3)
yb = y_axis_spec([0.0], -4, 4)
style(pB, *xb, *yb)
pB.xaxis.bounds = (-200, BOX_END)
pB.add_layout(text_axis([COLW * 1.5 - 200], ["Latency (ms)"], "12.5px", 10), "below")
pB.line([-200, BOX_END], [3.0, 3.0], line_color=AXC, line_width=1.5)
pB.line([-200, BOX_END], [-3.0, -3.0], line_color=AXC, line_width=1.5)
pB.line([BOX_END, BOX_END], [-3.0, 3.0], line_color=AXC, line_width=1)
for c in (1, 2):
    pB.add_layout(Span(location=COLW * c - 200, dimension="height", line_color=AXC, line_width=1))
    pB.scatter(x=[COLW * c - 200] * len(yb[1]), y=yb[1], marker="dash", size=5, line_color=AXC)
B_DATA = [[B_YNH_CN, B_YNH_MN, B_YNH_BN], [B_ONH_CN, B_ONH_MN, B_ONH_BN], [B_OHI_CN, B_OHI_MN, B_OHI_BN]]
for c, triple in enumerate(B_DATA):
    for k in (2, 1, 0):
        trace(pB, triple[k], c, 0.0, B_COLORS[k], 1.0)
for label, col, sy in zip(NOISE_LABELS, B_COLORS, [621, 632, 643]):
    txt(pB, [px_x(521)], [px_yb(sy)], [label], "9px", "right")
    pB.line([px_x(529), px_x(574)], [px_yb(sy)] * 2, line_color=col, line_width=1)

layout = column(sT, row(pA, pC), sM, pB)
open("out.html", "w").write(file_html(layout, INLINE))
